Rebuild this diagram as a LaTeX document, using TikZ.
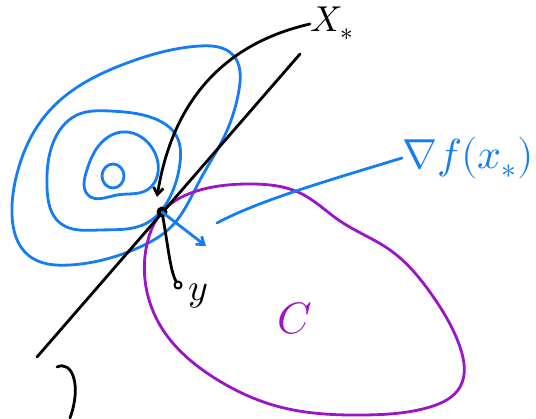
\documentclass[tikz,border=0pt]{standalone}
\usepackage{unicode-math}
\usetikzlibrary{arrows.meta, hobby}
\definecolor{penblue}{RGB}{20,125,245}
\definecolor{penpurple}{RGB}{155,20,200}
\tikzset{
    contour/.style={penblue, line width=2.8pt},
    region/.style={penpurple, line width=2.8pt},
    pen/.style={black, line width=2.8pt},
    handlabel/.style={inner sep=0pt, font=\fontsize{36}{40}\selectfont}
}
\begin{document}
\begin{tikzpicture}[x=1pt, y=-1pt, line cap=round, line join=round,
    >={Straight Barb[length=7pt, width=10pt]}, use Hobby shortcut]
    \useasboundingbox (0,0) rectangle (536,419);
    % level sets of f
    \draw[contour, closed=true] (57,103) .. (127,63) .. (200,46) .. (233,55) .. (239,90)
        .. (225,135) .. (200,180) .. (170,228) .. (140,247) .. (70,265) .. (28,255)
        .. (12,215) .. (18,170) .. (35,130);
    \draw[contour, closed=true] (77,115) .. (110,111) .. (153,118) .. (177,137) .. (180,163)
        .. (170,197) .. (147,223) .. (100,230) .. (60,223) .. (47,187) .. (53,143);
    \draw[contour, closed=true] (122,132) .. (150,145) .. (158,163) .. (147,190) .. (117,195)
        .. (88,195) .. (86,173) .. (97,148);
    \draw[contour] (113,176) ellipse (11pt and 12pt);
    % feasible set
    \draw[region, closed=true] (162,212) .. (200,190) .. (250,184) .. (300,193) .. (340,221)
        .. (390,250) .. (432,295) .. (460,347) .. (460,387) .. (430,407) .. (363,415)
        .. (280,407) .. (213,377) .. (163,330) .. (145,280) .. (148,240);
    \node[handlabel, font=\fontsize{44}{48}\selectfont, penpurple] (clabel) at (295,318) {$C$};
    % supporting line
    \draw[pen, use Hobby shortcut=false] (37,357) -- (300,54);
    % optimum and a feasible point
    \node[circle, fill=black, inner sep=0pt, minimum size=11pt] (xs) at (162,212) {};
    \node[circle, draw, line width=2pt, inner sep=0pt, minimum size=7pt] (ypt) at (178,285) {};
    \node[handlabel, font=\fontsize{38}{42}\selectfont, anchor=west] (ylabel) at (188,296) {$y$};
    \node[handlabel, anchor=west] (xlabel) at (310,24) {$X_{*}$};
    \node[handlabel, font=\fontsize{42}{46}\selectfont, penblue, anchor=west] (glabel) at (402,158) {$\nabla f(x_{*})$};
    % connectors
    \draw[pen, ->] (xlabel.west) .. controls (240,40) and (175,85) .. (157,197);
    \draw[pen] (xs.center) .. controls (168,245) and (170,270) .. (ypt);
    \draw[contour, ->] (xs.center) -- (206,246);
    \draw[contour] (glabel.west) .. controls (330,180) and (260,200) .. (217,223);
    % stray stroke
    \draw[pen] (57,367) .. controls (72,360) and (82,385) .. (70,418);
\end{tikzpicture}
\end{document}
